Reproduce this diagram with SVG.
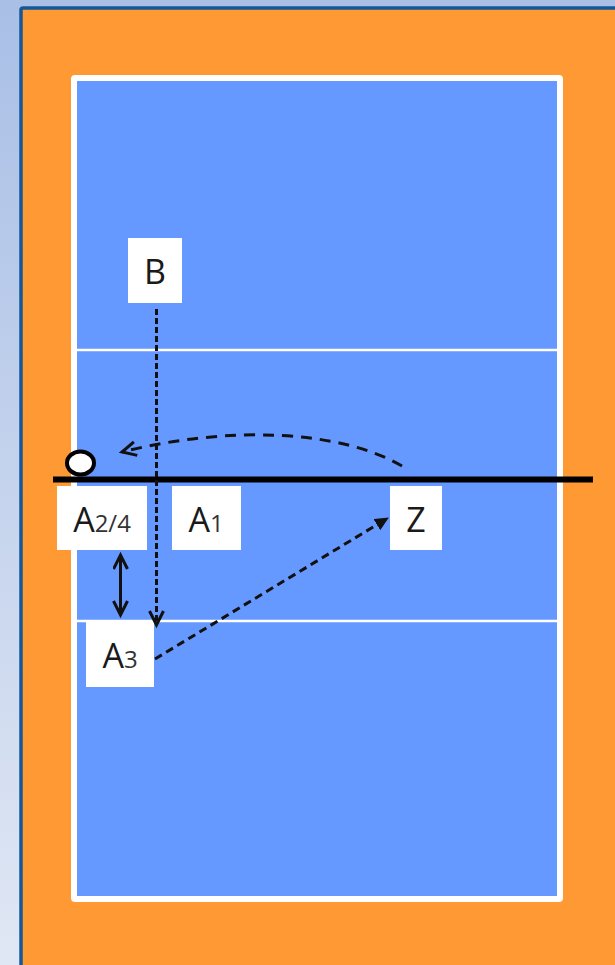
<svg xmlns="http://www.w3.org/2000/svg" width="615" height="965" viewBox="0 0 615 965">
<style>
.box{fill:#fff}
.t{font-family:"Open Sans","Noto Sans","Liberation Sans",sans-serif;font-size:34px;fill:#1a1a1a;text-anchor:middle}
.s{font-size:24px;fill:#333}
.d{fill:none;stroke:#111;stroke-width:3}
.line{fill:none;stroke:#fff;stroke-width:2.500}
</style>
<defs>
<linearGradient id="bg" x1="0" y1="0" x2="0" y2="1"><stop offset="0" stop-color="#a9bfe6"/><stop offset="1" stop-color="#e0e7f4"/></linearGradient>
<marker id="open" markerWidth="20" markerHeight="20" refX="15" refY="8" orient="auto-start-reverse" markerUnits="userSpaceOnUse"><path d="M1 1L15 8L1 15" fill="none" stroke="#111" stroke-width="3"/></marker>
<marker id="solid" markerWidth="16" markerHeight="14" refX="13" refY="6.500" orient="auto" markerUnits="userSpaceOnUse"><path d="M0 0L14 6.500L0 13Z" fill="#111"/></marker>
</defs>
<rect width="615" height="965" fill="url(#bg)"/>
<rect x="21" y="8" width="640" height="1000" rx="2" fill="#ff9933" stroke="#15589a" stroke-width="3.500"/>
<rect x="74" y="78" width="486" height="821" rx="1" fill="#6699ff" stroke="#fff" stroke-width="6"/>
<g id="lines">
<line class="line" x1="76" y1="350" x2="558" y2="350"/>
<line class="line" x1="76" y1="621" x2="558" y2="621"/>
</g>
<g id="node-B"><rect class="box" x="128" y="238" width="54" height="65"/><text class="t" x="155" y="284">B</text></g>
<g id="node-A24"><rect class="box" x="57" y="486" width="90" height="64"/><text class="t" x="102" y="532">A<tspan class="s">2/4</tspan></text></g>
<g id="node-A1"><rect class="box" x="172" y="486" width="69" height="64"/><text class="t" x="206" y="532">A<tspan class="s">1</tspan></text></g>
<g id="node-Z"><rect class="box" x="390" y="486" width="52" height="64"/><text class="t" x="416" y="532">Z</text></g>
<g id="node-A3"><rect class="box" x="86" y="621" width="68" height="66"/><text class="t" x="120" y="668">A<tspan class="s">3</tspan></text></g>
<g id="net"><line x1="53" y1="479.500" x2="593" y2="479.500" stroke="#000" stroke-width="6"/></g>
<g id="ball"><ellipse cx="80.500" cy="463" rx="13.500" ry="11.500" fill="#fff" stroke="#000" stroke-width="4"/></g>
<g id="connectors">
<line class="d" x1="156.500" y1="309" x2="156.500" y2="625" stroke-dasharray="6 3" marker-end="url(#open)"/>
<path class="d" d="M402 466C340 430 230 425 122 452" stroke-dasharray="11 8" marker-end="url(#open)"/>
<line class="d" x1="155" y1="659" x2="388" y2="518" stroke-dasharray="8 5" marker-end="url(#solid)"/>
<line class="d" x1="120.500" y1="555" x2="120.500" y2="615" marker-start="url(#open)" marker-end="url(#open)"/>
</g>
</svg>
